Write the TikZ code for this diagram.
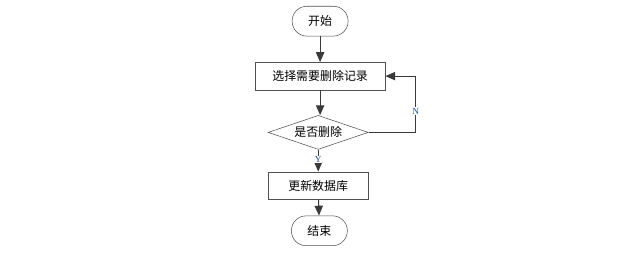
\documentclass[tikz,border=0pt]{standalone}
\usepackage{fontspec}
\usepackage{tikz}
\usetikzlibrary{arrows.meta,positioning,shapes.geometric}
\newfontfamily\cjk{Noto Sans CJK SC}
\newfontfamily\lblfont{Liberation Serif}
\definecolor{linegray}{HTML}{3A3A3A}
\definecolor{boxgray}{HTML}{505050}
\definecolor{lblblue}{HTML}{1F4E9A}

\begin{document}
\begin{tikzpicture}[
    node distance=0.66cm,
    terminal/.style={draw=boxgray, rectangle, rounded corners=0.39cm, fill=white, minimum width=1.48cm, minimum height=0.79cm, inner sep=0pt, font=\cjk\fontsize{9}{10}\selectfont},
    process/.style={draw=boxgray, rectangle, fill=white, minimum height=0.73cm, inner sep=0pt, font=\cjk\fontsize{9}{10}\selectfont},
    decision/.style={draw=boxgray, diamond, fill=white, aspect=2.9, minimum width=2.65cm, minimum height=0.9cm, inner sep=0pt, font=\cjk\fontsize{9}{10}\selectfont},
    arrow/.style={-{Triangle[length=2.6mm,width=2.2mm]}, linegray, thick},
    branch/.style={font=\lblfont\fontsize{7}{8}\selectfont, text=lblblue, fill=white, inner sep=0.5pt}
]
  \useasboundingbox (0,0) rectangle (16.59,-6.83);

  % Nodes
  \node (start) [terminal] at (8.47,-0.56) {开始};
  \node (select) [process, minimum width=3.44cm, below=0.68cm of start] {选择需要删除记录};
  \node (ask) [decision, below=0.66cm of select, xshift=-0.05cm] {是否删除};
  \node (update) [process, minimum width=2.65cm, below=0.58cm of ask] {更新数据库};
  \node (stop) [terminal, below=0.42cm of update, xshift=0.03cm] {结束};

  % Arrows
  \draw [arrow] (start) -- (select);
  \draw [arrow] (select.south) -- (ask.north -| select.south);
  \draw [arrow] (ask) -- node[branch, pos=0.45] {Y} (update);
  \draw [arrow] (update) -- (stop);

  % Back loop
  \coordinate (turn) at ([xshift=1.25cm]ask.east);
  \draw [arrow] (ask.east) -- (turn) -- node[branch, pos=0.38] {N} (turn |- select.east) -- (select.east);

\end{tikzpicture}
\end{document}
